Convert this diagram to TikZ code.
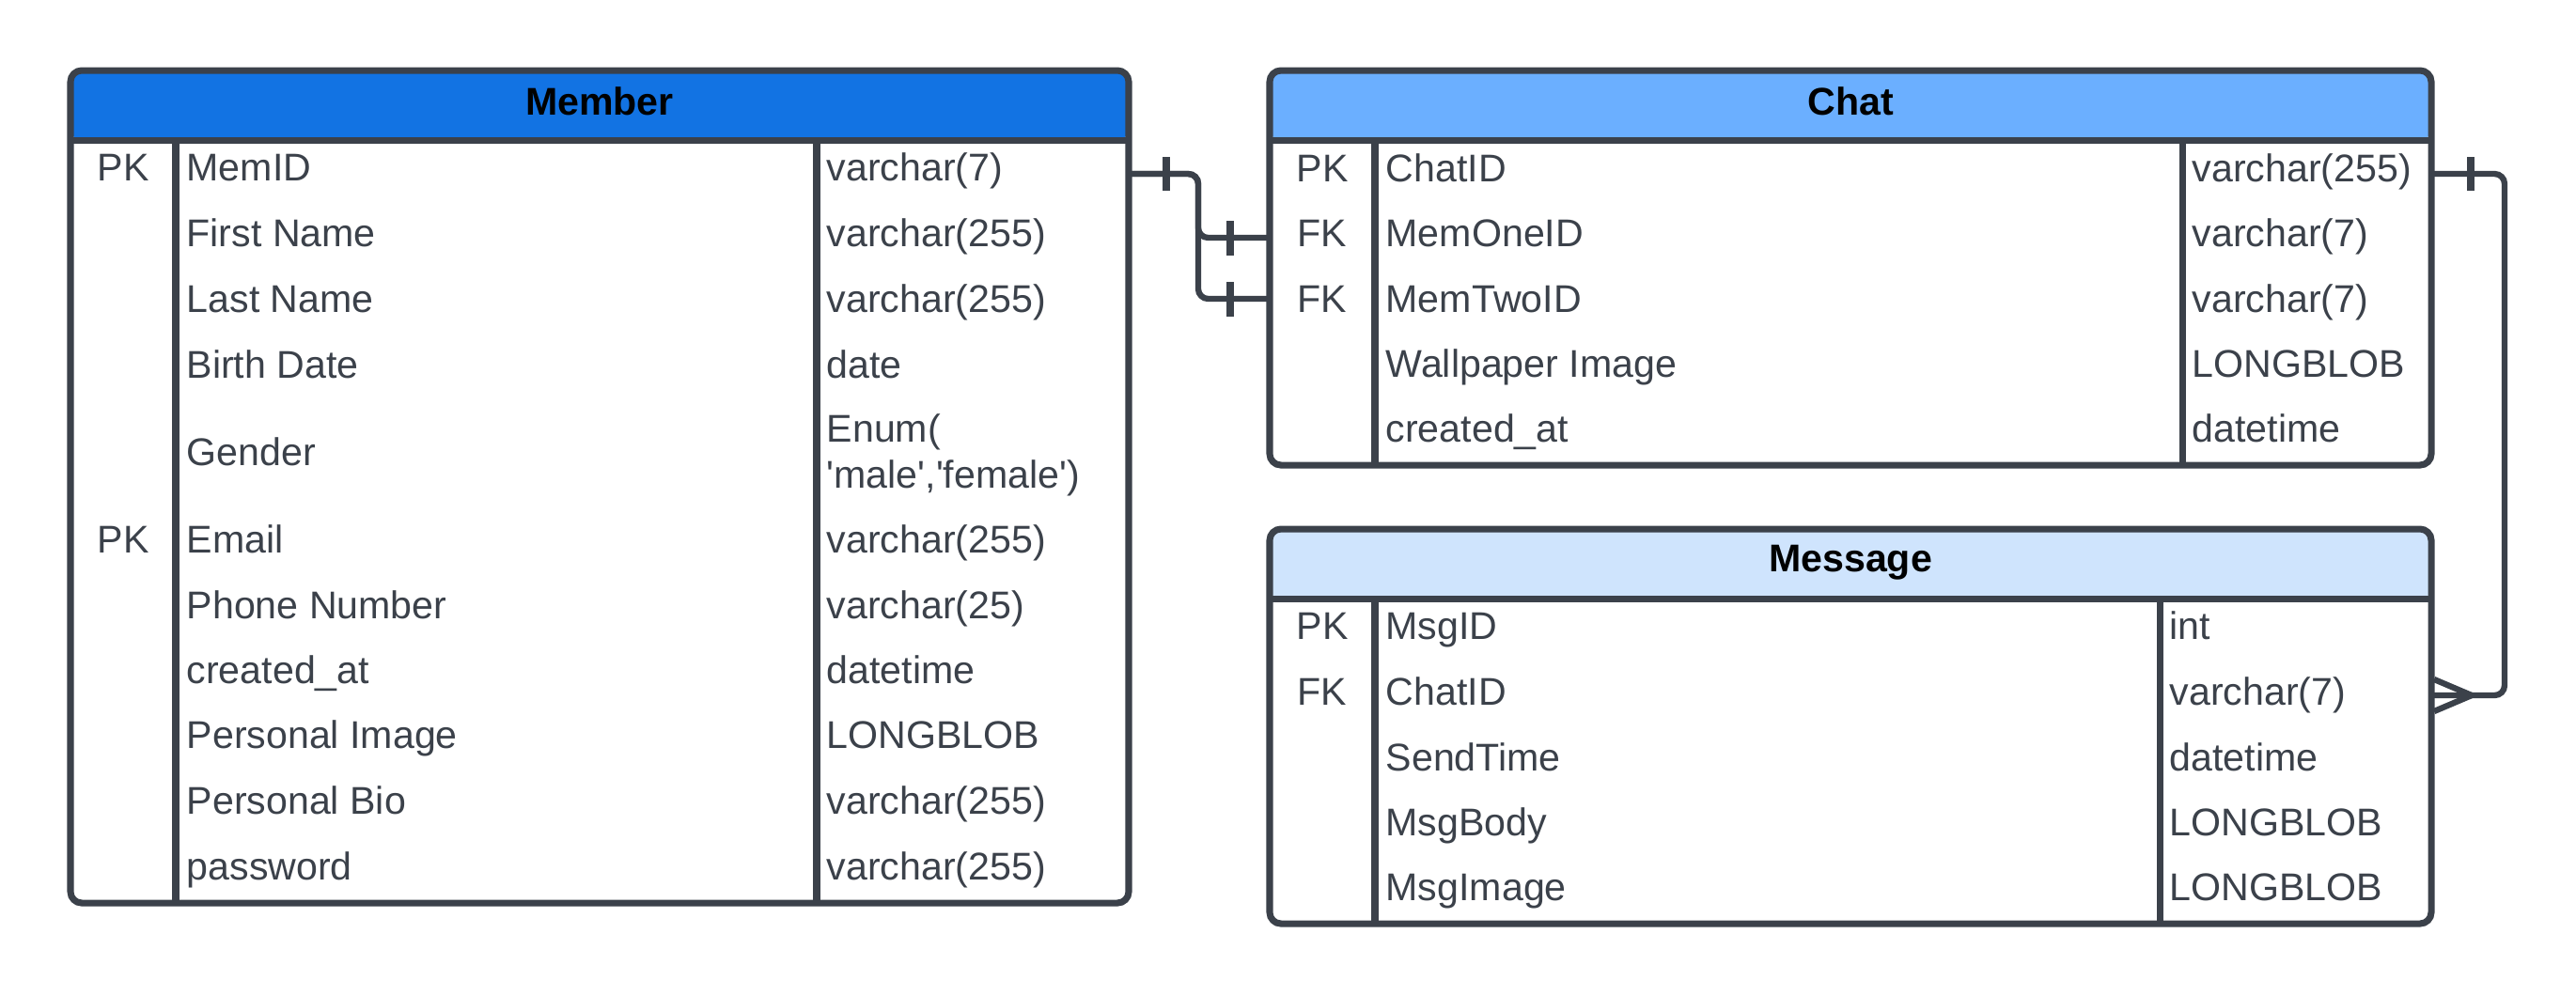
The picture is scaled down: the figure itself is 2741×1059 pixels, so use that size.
\documentclass[tikz,border=0pt]{standalone}
\usepackage{fontspec}
\newfontfamily\erfont{Liberation Sans}
\newcommand\ertextfont{\erfont\fontsize{11.7}{14}\selectfont}
\newcommand\ertitlefont{\erfont\bfseries\fontsize{11.7}{14}\selectfont}
\definecolor{erdark}{RGB}{59,65,74}
\definecolor{memblue}{RGB}{18,115,227}
\definecolor{chatblue}{RGB}{107,175,255}
\definecolor{msgblue}{RGB}{207,228,253}
\begin{document}
\begin{tikzpicture}[x=0.01cm,y=-0.01cm,
  ertxt/.style={font=\ertextfont, text=erdark, inner sep=0pt, anchor=base west},
  erkey/.style={font=\ertextfont, text=erdark, inner sep=0pt, anchor=base},
  ertitle/.style={font=\ertitlefont, text=black, inner sep=0pt, anchor=base},
  erborder/.style={draw=erdark, line width=2pt, rounded corners=3.4pt},
  erline/.style={draw=erdark, line width=2pt},
  conn/.style={draw=erdark, line width=1.8pt, rounded corners=3pt},
  tickmark/.style={draw=erdark, line width=2.3pt},
]
\useasboundingbox (0,0) rectangle (2741,1059);

% ---------------- Member ----------------
\fill[memblue, rounded corners=3.4pt] (75,149) |- (1201,75) -- (1201,149) -- cycle;
\draw[erborder] (75,75) rectangle (1201,961);
\draw[erline] (75,149) -- (1201,149);
\draw[erline] (187,149) -- (187,961);
\draw[erline] (869,149) -- (869,961);
\node[ertitle] (memT) at (638,122) {Member};
\node[erkey] (memK1) at (131,192) {PK};
\node[ertxt] (memN1) at (198,192) {MemID};
\node[ertxt] (memY1) at (879,192) {varchar(7)};
\node[ertxt] (memN2) at (198,262) {First Name};
\node[ertxt] (memY2) at (879,262) {varchar(255)};
\node[ertxt] (memN3) at (198,332) {Last Name};
\node[ertxt] (memY3) at (879,332) {varchar(255)};
\node[ertxt] (memN4) at (198,402) {Birth Date};
\node[ertxt] (memY4) at (879,402) {date};
\node[ertxt] (memN5) at (198,495) {Gender};
\node[ertxt] (memY5a) at (879,470) {Enum(};
\node[ertxt] (memY5b) at (879,519) {'male','female')};
\node[erkey] (memK6) at (131,588) {PK};
\node[ertxt] (memN6) at (198,588) {Email};
\node[ertxt] (memY6) at (879,588) {varchar(255)};
\node[ertxt] (memN7) at (198,658) {Phone Number};
\node[ertxt] (memY7) at (879,658) {varchar(25)};
\node[ertxt] (memN8) at (198,727) {created\_at};
\node[ertxt] (memY8) at (879,727) {datetime};
\node[ertxt] (memN9) at (198,796) {Personal Image};
\node[ertxt] (memY9) at (879,796) {LONGBLOB};
\node[ertxt] (memN10) at (198,866) {Personal Bio};
\node[ertxt] (memY10) at (879,866) {varchar(255)};
\node[ertxt] (memN11) at (198,936) {password};
\node[ertxt] (memY11) at (879,936) {varchar(255)};

% ---------------- Chat ----------------
\fill[chatblue, rounded corners=3.4pt] (1351,149) |- (2587,75) -- (2587,149) -- cycle;
\draw[erborder] (1351,75) rectangle (2587,495);
\draw[erline] (1351,149) -- (2587,149);
\draw[erline] (1463,149) -- (1463,495);
\draw[erline] (2322,149) -- (2322,495);
\node[ertitle] (chatT) at (1969,122) {Chat};
\node[erkey] (chatK1) at (1407,193) {PK};
\node[ertxt] (chatN1) at (1474,193) {ChatID};
\node[ertxt] (chatY1) at (2332,193) {varchar(255)};
\node[erkey] (chatK2) at (1407,262) {FK};
\node[ertxt] (chatN2) at (1474,262) {MemOneID};
\node[ertxt] (chatY2) at (2332,262) {varchar(7)};
\node[erkey] (chatK3) at (1407,332) {FK};
\node[ertxt] (chatN3) at (1474,332) {MemTwoID};
\node[ertxt] (chatY3) at (2332,332) {varchar(7)};
\node[ertxt] (chatN4) at (1474,401) {Wallpaper Image};
\node[ertxt] (chatY4) at (2332,401) {LONGBLOB};
\node[ertxt] (chatN5) at (1474,470) {created\_at};
\node[ertxt] (chatY5) at (2332,470) {datetime};

% ---------------- Message ----------------
\fill[msgblue, rounded corners=3.4pt] (1351,637) |- (2587,563) -- (2587,637) -- cycle;
\draw[erborder] (1351,563) rectangle (2587,983);
\draw[erline] (1351,637) -- (2587,637);
\draw[erline] (1463,637) -- (1463,983);
\draw[erline] (2298,637) -- (2298,983);
\node[ertitle] (msgT) at (1969,608) {Message};
\node[erkey] (msgK1) at (1407,680) {PK};
\node[ertxt] (msgN1) at (1474,680) {MsgID};
\node[ertxt] (msgY1) at (2308,680) {int};
\node[erkey] (msgK2) at (1407,750) {FK};
\node[ertxt] (msgN2) at (1474,750) {ChatID};
\node[ertxt] (msgY2) at (2308,750) {varchar(7)};
\node[ertxt] (msgN3) at (1474,820) {SendTime};
\node[ertxt] (msgY3) at (2308,820) {datetime};
\node[ertxt] (msgN4) at (1474,889) {MsgBody};
\node[ertxt] (msgY4) at (2308,889) {LONGBLOB};
\node[ertxt] (msgN5) at (1474,958) {MsgImage};
\node[ertxt] (msgY5) at (2308,958) {LONGBLOB};

% ---------------- connectors ----------------
\coordinate (memPK) at (1201,185);
\coordinate (chatFK1) at (1351,253);
\coordinate (chatFK2) at (1351,318);
\coordinate (chatPK) at (2587,185);
\coordinate (msgFK) at (2587,740);
\coordinate (crowTip) at (2630,740);

\draw[conn] (memPK) -- (1275,185) -- (1275,318) -- (chatFK2);
\draw[conn] (memPK) -- (1275,185) -- (1275,253) -- (chatFK1);
\draw[tickmark] (1241,167) -- (1241,203);
\draw[tickmark] (1309,235) -- (1309,272);
\draw[tickmark] (1309,300) -- (1309,337);

\draw[conn] (chatPK) -- (2665,185) -- (2665,740) -- (msgFK);
\draw[tickmark] (2629,167) -- (2629,203);
\draw[conn, rounded corners=0pt] (2590,723) -- (crowTip) -- (2590,757);
\end{tikzpicture}
\end{document}
